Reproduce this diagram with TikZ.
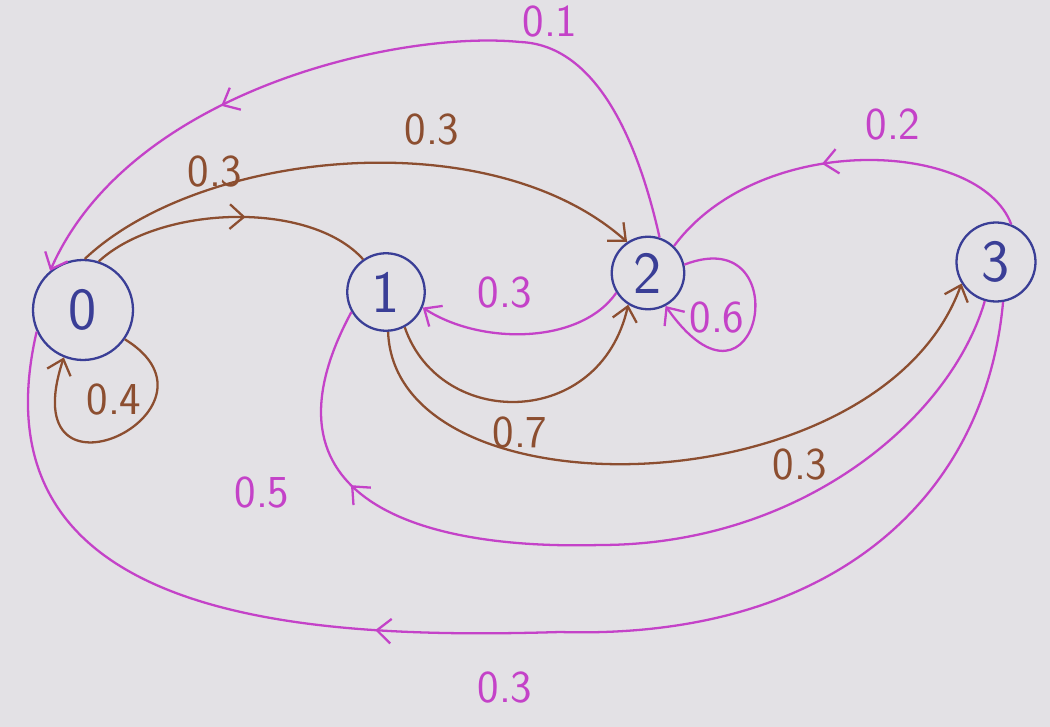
\documentclass[tikz,border=0pt]{standalone}
\usepackage{fontspec}
\usetikzlibrary{arrows.meta,decorations.markings}
\definecolor{paper}{RGB}{227,225,229}
\definecolor{inkblue}{RGB}{58,62,150}
\definecolor{inkbrown}{RGB}{140,78,48}
\definecolor{inkpink}{RGB}{196,66,200}

\begin{document}
\begin{tikzpicture}[
  x=0.2mm, y=-0.2mm,
  font=\sffamily,
  >={Straight Barb[length=8pt,width=14pt]},
  state/.style={circle,draw=inkblue,line width=1.3pt,inner sep=0pt,text=inkblue,font=\sffamily\fontsize{34}{40}\selectfont},
  brownline/.style={draw=inkbrown,line width=1.3pt},
  pinkline/.style={draw=inkpink,line width=1.3pt},
  prob/.style={font=\sffamily\fontsize{26}{30}\selectfont},
  midarrow/.style={postaction={decorate},decoration={markings,mark=at position #1 with {\arrow{>}}}}
]
\fill[paper] (0,0) rectangle (1050,727);
\useasboundingbox (0,0) rectangle (1050,727);

\node[state,minimum size=2cm] (n0) at (83,310) {0};
\node[state,minimum size=1.55cm] (n1) at (386,292) {1};
\node[state,minimum size=1.45cm] (n2) at (648,273) {2};
\node[state,minimum size=1.58cm] (n3) at (996,262) {3};

% brown: out of states 0 and 1
\draw[brownline,midarrow=0.55] (n0.72) .. controls (160,205) and (310,200) .. (n1.125);
\draw[brownline,->] (n0.88) .. controls (200,150) and (490,120) .. (n2.124);
\draw[brownline,->] (n0.-35) .. controls (240,410) and (10,520) .. (n0.-112);
\draw[brownline,->] (n1.-62) .. controls (440,430) and (600,430) .. (n2.-122);
\draw[brownline,->] (n1.-87) .. controls (395,520) and (880,510) .. (n3.-148);

% pink: out of states 2 and 3
\draw[pinkline,->,midarrow=0.7] (n2.72) .. controls (640,150) and (600,45) .. (520,42)
  .. controls (400,30) and (130,90) .. (n0.130);
\draw[pinkline,midarrow=0.55] (n3.68) .. controls (980,140) and (760,130) .. (n2.46);
\draw[pinkline,->] (n2.212) .. controls (580,345) and (480,345) .. (n1.-23);
\draw[pinkline,->] (n2.13) .. controls (800,220) and (760,440) .. (n2.-62);
\draw[pinkline,midarrow=0.8] (n3.-106) .. controls (950,420) and (800,545) .. (600,545)
  .. controls (420,550) and (250,500) .. (n1.210);
\draw[pinkline,midarrow=0.6] (n3.-80) .. controls (985,500) and (830,640) .. (560,632)
  .. controls (300,640) and (-30,620) .. (n0.205);

% probabilities
\node[prob,text=inkbrown] (p01) at (215,172) {0.3};
\node[prob,text=inkbrown] (p02) at (432,130) {0.3};
\node[prob,text=inkbrown] (p00) at (114,400) {0.4};
\node[prob,text=inkbrown] (p12) at (520,433) {0.7};
\node[prob,text=inkbrown] (p13) at (800,465) {0.3};
\node[prob,text=inkpink] (p20) at (550,22) {0.1};
\node[prob,text=inkpink] (p32) at (893,125) {0.2};
\node[prob,text=inkpink] (p21) at (505,293) {0.3};
\node[prob,text=inkpink] (p22) at (717,318) {0.6};
\node[prob,text=inkpink] (p31) at (262,493) {0.5};
\node[prob,text=inkpink] (p30) at (505,688) {0.3};
\end{tikzpicture}
\end{document}
